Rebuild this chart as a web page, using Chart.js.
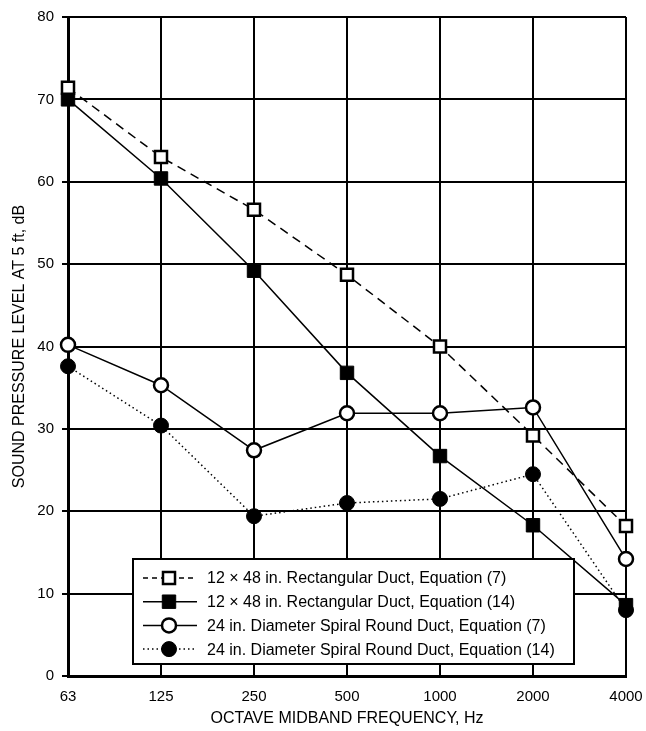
<!DOCTYPE html>
<html>
<head>
<meta charset="utf-8">
<script src="https://cdn.jsdelivr.net/npm/chart.js@4"></script>
<style>
  body { margin: 0; background: #fff; }
  #wrap { width: 646px; height: 731px; }
</style>
</head>
<body>
<div id="wrap"><canvas id="myChart" width="646" height="731"></canvas></div>
<script>
// octave band centre frequencies (Hz)
const frequencies = ["63", "125", "250", "500", "1000", "2000", "4000"];

// sound pressure level at 5 ft, dB
const rectEq7 = [71.4, 63.0, 56.6, 48.7, 40.0, 29.2, 18.2];
const rectEq14 = [70.0, 60.4, 49.2, 36.8, 26.7, 18.3, 8.6];
const roundEq7 = [40.2, 35.3, 27.4, 31.9, 31.9, 32.6, 14.2];
const roundEq14 = [37.6, 30.4, 19.4, 21.0, 21.5, 24.5, 8.0];

const seriesLabels = [
  "12 \u00d7 48 in. Rectangular Duct, Equation (7)",
  "12 \u00d7 48 in. Rectangular Duct, Equation (14)",
  "24 in. Diameter Spiral Round Duct, Equation (7)",
  "24 in. Diameter Spiral Round Duct, Equation (14)"
];

const yTicks = [0, 10, 20, 30, 40, 50, 60, 70, 80];

const FONT = "'Liberation Sans', Arial, Helvetica, sans-serif";

// legend drawn inside the plot area, like the original figure
const insideLegend = {
  id: "insideLegend",
  afterDraw(chart) {
    const ctx = chart.ctx;
    const area = chart.chartArea;
    const x0 = area.left + 65, x1 = area.left + 506;
    const y0 = area.bottom - 117, y1 = area.bottom - 12;
    const dashes = [[5, 4], [], [], [1.5, 3]];
    ctx.save();
    ctx.fillStyle = "#fff";
    ctx.fillRect(x0, y0, x1 - x0, y1 - y0);
    ctx.strokeStyle = "#000";
    ctx.lineWidth = 2;
    ctx.strokeRect(x0, y0, x1 - x0, y1 - y0);
    ctx.font = "16px " + FONT;
    ctx.textBaseline = "middle";
    chart.data.datasets.forEach((ds, i) => {
      const cy = y0 + 19 + i * 23.7;
      ctx.beginPath();
      ctx.setLineDash(dashes[i]);
      ctx.lineWidth = ds.borderWidth;
      ctx.strokeStyle = "#000";
      ctx.moveTo(x0 + 10, cy);
      ctx.lineTo(x0 + 64, cy);
      ctx.stroke();
      ctx.setLineDash([]);
      ctx.fillStyle = ds.pointBackgroundColor;
      ctx.strokeStyle = "#000";
      ctx.lineWidth = ds.pointBorderWidth;
      Chart.helpers.drawPoint(ctx, {
        pointStyle: ds.pointStyle,
        radius: ds.pointRadius,
        borderWidth: ds.pointBorderWidth,
        rotation: 0
      }, x0 + 36, cy);
      ctx.fillStyle = "#000";
      ctx.fillText(ds.label, x0 + 74, cy + 1);
    });
    ctx.restore();
  }
};

const ctx = document.getElementById("myChart").getContext("2d");
const myChart = new Chart(ctx, {
  type: "line",
  data: {
    labels: frequencies,
    datasets: [
      {
        label: seriesLabels[0],
        data: rectEq7,
        borderColor: "#000",
        borderWidth: 1.5,
        borderDash: [9, 6],
        pointStyle: "rect",
        pointRadius: 8.5,
        pointBorderWidth: 2.5,
        pointBackgroundColor: "#fff",
        pointBorderColor: "#000"
      },
      {
        label: seriesLabels[1],
        data: rectEq14,
        borderColor: "#000",
        borderWidth: 1.5,
        pointStyle: "rect",
        pointRadius: 9.5,
        pointBorderWidth: 1,
        pointBackgroundColor: "#000",
        pointBorderColor: "#000"
      },
      {
        label: seriesLabels[2],
        data: roundEq7,
        borderColor: "#000",
        borderWidth: 1.5,
        pointStyle: "circle",
        pointRadius: 7,
        pointBorderWidth: 2.5,
        pointBackgroundColor: "#fff",
        pointBorderColor: "#000"
      },
      {
        label: seriesLabels[3],
        data: roundEq14,
        borderColor: "#000",
        borderWidth: 1.5,
        borderDash: [1.5, 3],
        pointStyle: "circle",
        pointRadius: 7.5,
        pointBorderWidth: 1,
        pointBackgroundColor: "#000",
        pointBorderColor: "#000"
      }
    ]
  },
  options: {
    responsive: false,
    devicePixelRatio: 1,
    animation: false,
    layout: { padding: { top: 16, right: 20, left: 0, bottom: 0 } },
    plugins: { legend: { display: false }, tooltip: { enabled: false } },
    scales: {
      x: {
        offset: false,
        afterFit(scale) {
          scale.height = 55;
          scale.paddingLeft = 0;
          scale.paddingRight = 0;
        },
        grid: { color: "#000", lineWidth: 2, drawTicks: false },
        border: { color: "#000", width: 3 },
        ticks: { color: "#000", font: { family: FONT, size: 15 }, padding: 12, maxRotation: 0 },
        title: {
          display: true,
          text: "OCTAVE MIDBAND FREQUENCY, Hz",
          color: "#000",
          font: { family: FONT, size: 16 },
          padding: { top: 4, bottom: 3 }
        }
      },
      y: {
        min: 0,
        max: 80,
        afterFit(scale) { scale.width = 68; },
        afterBuildTicks(scale) { scale.ticks = yTicks.map(v => ({ value: v })); },
        grid: { color: "#000", lineWidth: 2, tickLength: 6 },
        border: { color: "#000", width: 3 },
        ticks: { color: "#000", font: { family: FONT, size: 15 }, padding: 8 },
        title: {
          display: true,
          text: "SOUND PRESSURE LEVEL AT 5 ft, dB",
          color: "#000",
          font: { family: FONT, size: 16 },
          padding: { top: 10, bottom: 4 }
        }
      }
    }
  },
  plugins: [insideLegend]
});
</script>
</body>
</html>
